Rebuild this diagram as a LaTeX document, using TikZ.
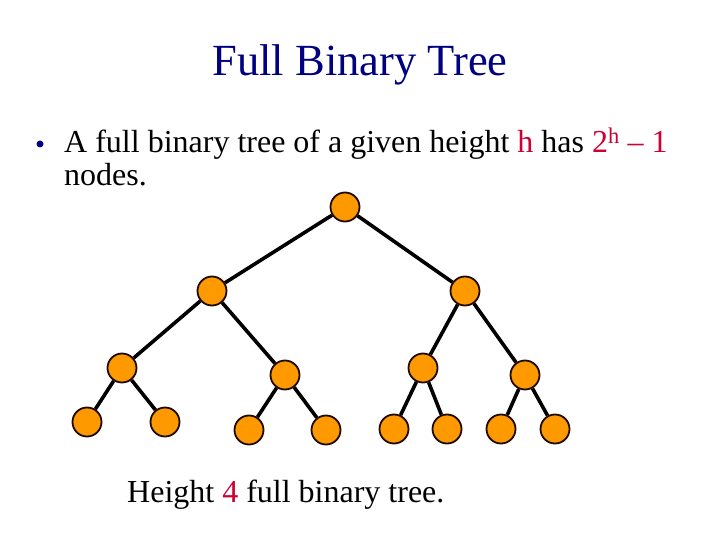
\documentclass[tikz,border=0pt]{standalone}
\usepackage{fontspec}
\setmainfont{Liberation Serif}
\definecolor{titleblue}{RGB}{0,0,128}
\definecolor{hred}{RGB}{204,0,51}
\definecolor{norange}{RGB}{255,153,0}
\definecolor{nedge}{RGB}{30,10,0}
\begin{document}
\begin{tikzpicture}[x=1pt,y=-1pt,
  tnode/.style={circle,draw=nedge,line width=1.8pt,fill=norange,minimum size=29pt,inner sep=0pt},
  tedge/.style={line width=3.6pt,draw=black},
  txt/.style={inner sep=0pt,anchor=base west,font=\fontsize{32}{32}\selectfont}]
\useasboundingbox (0,0) rectangle (720,540);
\fill[white] (0,0) rectangle (720,540);
\node[inner sep=0pt,anchor=base,font=\fontsize{44.5}{44.5}\selectfont,text=titleblue] (title) at (360,76) {Full Binary Tree};
\node[circle,fill=titleblue,inner sep=0pt,minimum size=7pt] (bul) at (40,144) {};
\node[txt] (l1) at (64,153) {A full binary tree of a given height \textcolor{hred}{h} has \textcolor{hred}{2\textsuperscript{h} – 1}};
\node[txt] (l2) at (64,186) {nodes.};
\node[txt] (cap) at (127,502) {Height \textcolor{hred}{4} full binary tree.};
% nodes
\node[tnode] (r) at (345,207) {};
\node[tnode] (a) at (212,291) {};
\node[tnode] (b) at (465,291) {};
\node[tnode] (aa) at (122,368) {};
\node[tnode] (ab) at (285,375) {};
\node[tnode] (ba) at (423,368) {};
\node[tnode] (bb) at (525,375) {};
\node[tnode] (aaa) at (87,422) {};
\node[tnode] (aab) at (165,422) {};
\node[tnode] (aba) at (249,430) {};
\node[tnode] (abb) at (326,430) {};
\node[tnode] (baa) at (394,429) {};
\node[tnode] (bab) at (447,429) {};
\node[tnode] (bba) at (501,429) {};
\node[tnode] (bbb) at (555,429) {};
\foreach \p/\c in {r/a,r/b,a/aa,a/ab,b/ba,b/bb,aa/aaa,aa/aab,ab/aba,ab/abb,ba/baa,ba/bab,bb/bba,bb/bbb}
  \draw[tedge] (\p) -- (\c);
\end{tikzpicture}
\end{document}
